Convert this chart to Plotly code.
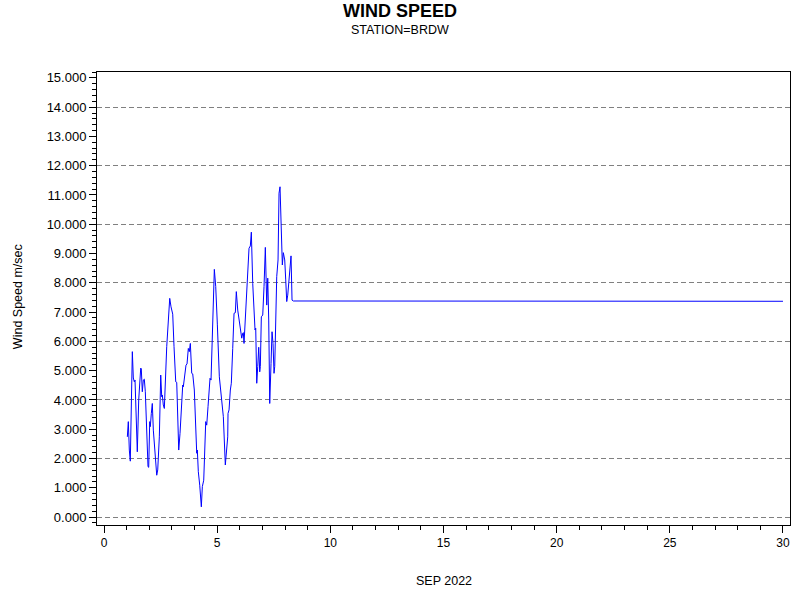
import plotly.graph_objects as go

# Day of month (Sep 2022) and wind speed (m/sec)
days = [1.030, 1.074, 1.118, 1.162, 1.251, 1.295, 1.339, 1.370, 1.471, 1.533,
        1.622, 1.648, 1.692, 1.737, 1.781, 1.825, 1.944, 1.975, 2.019, 2.046,
        2.090, 2.134, 2.179, 2.267, 2.329, 2.373, 2.444, 2.506, 2.550, 2.576,
        2.620, 2.665, 2.771, 2.841, 2.903, 2.961, 3.005, 3.036, 3.093, 3.168,
        3.213, 3.301, 3.358, 3.434, 3.478, 3.504, 3.566, 3.623, 3.668, 3.725,
        3.769, 3.814, 3.875, 3.920, 3.990, 4.052, 4.096, 4.123, 4.167, 4.229,
        4.300, 4.344, 4.406, 4.494, 4.538, 4.596, 4.653, 4.684, 4.728, 4.803,
        4.874, 4.936, 4.980, 5.007, 5.095, 5.157, 5.214, 5.272, 5.360, 5.422,
        5.466, 5.479, 5.524, 5.581, 5.625, 5.687, 5.745, 5.802, 5.846, 5.908,
        5.966, 6.041, 6.085, 6.129, 6.156, 6.186, 6.244, 6.332, 6.407, 6.465,
        6.509, 6.571, 6.628, 6.672, 6.703, 6.748, 6.792, 6.836, 6.880, 6.907,
        6.951, 7.013, 7.070, 7.128, 7.190, 7.234, 7.278, 7.322, 7.380, 7.424,
        7.468, 7.512, 7.543, 7.587, 7.631, 7.689, 7.733, 7.777, 7.821, 7.879,
        7.923, 7.985, 8.029, 8.073, 8.118, 8.175, 8.219, 8.263, 8.308, 8.365,
        30.0]
speed = [2.74, 3.26, 2.29, 1.91, 5.65, 4.75, 4.62, 4.68, 2.23, 4.00,
         5.09, 5.06, 4.28, 4.68, 4.71, 4.28, 1.72, 1.70, 3.26, 3.09,
         3.54, 3.88, 2.97, 1.95, 1.43, 1.61, 2.74, 4.85, 4.11, 4.17,
         3.83, 3.71, 5.82, 6.73, 7.47, 7.18, 6.94, 6.93, 5.82, 4.62,
         4.60, 2.29, 2.86, 4.11, 4.51, 4.45, 4.96, 5.19, 5.23, 5.76,
         5.65, 5.93, 4.91, 4.89, 4.34, 2.52, 2.18, 2.29, 1.55, 1.09,
         0.35, 1.04, 1.26, 3.26, 3.14, 3.77, 4.62, 4.74, 4.68, 7.07,
         8.46, 7.87, 6.62, 6.59, 4.79, 4.34, 3.88, 3.43, 1.78, 2.40,
         2.74, 3.54, 3.66, 4.34, 4.57, 5.76, 6.96, 6.98, 7.70, 7.07,
         6.73, 6.28, 6.11, 6.28, 6.30, 5.93, 6.84, 7.98, 9.18, 9.26,
         9.73, 7.98, 7.07, 6.39, 6.45, 4.57, 5.14, 5.80, 4.96, 5.14,
         6.84, 6.90, 7.87, 9.21, 7.24, 8.16, 6.73, 3.88, 5.25, 6.33,
         5.93, 4.91, 5.14, 6.50, 8.21, 8.78, 11.06, 11.28, 10.26, 8.61,
         9.03, 8.78, 8.10, 7.36, 7.58, 8.16, 8.67, 8.92, 7.41, 7.38,
         7.37]

x_ticks = [0, 5, 10, 15, 20, 25, 30]
y_ticks = list(range(0, 16))
y_grid = list(range(0, 16, 2))

FONT = "Liberation Sans, Arial, sans-serif"

fig = go.Figure()
fig.add_trace(go.Scatter(x=days, y=speed, mode="lines",
                         line=dict(color="#0000ff", width=1),
                         hoverinfo="x+y", showlegend=False))
# invisible trace for the grid axis
fig.add_trace(go.Scatter(x=[None], y=[None], yaxis="y2", showlegend=False,
                         hoverinfo="skip"))

yrange = [-0.27, 15.2]
fig.update_layout(
    width=800, height=600,
    margin=dict(l=97, r=10, t=72, b=75),
    paper_bgcolor="white", plot_bgcolor="white",
    font=dict(family=FONT, color="black", size=12),
    title=dict(text="<b>WIND SPEED</b>", x=0.5, xref="container",
               y=1 - 11 / 600, yref="container", yanchor="middle",
               xanchor="center", font=dict(size=18, family=FONT)),
    xaxis=dict(range=[-0.31, 30.31], tickvals=x_ticks,
               ticks="outside", ticklen=7, tickcolor="black", tickwidth=1,
               minor=dict(dtick=1, tick0=0, ticks="outside", ticklen=4,
                          tickcolor="black", showgrid=False),
               showline=True, linecolor="black", linewidth=1, mirror=True,
               showgrid=False, zeroline=False,
               tickfont=dict(size=12), title=None),
    yaxis=dict(range=yrange, tickvals=y_ticks, tickformat=".3f",
               ticks="outside", ticklen=7, tickcolor="black", tickwidth=1,
               minor=dict(dtick=0.2, tick0=0, ticks="outside", ticklen=4,
                          tickcolor="black", showgrid=False),
               showline=True, linecolor="black", linewidth=1, mirror=True,
               showgrid=False, zeroline=False,
               tickfont=dict(size=13), title=None),
    yaxis2=dict(range=yrange, overlaying="y", tickvals=y_grid,
                showticklabels=False, ticks="", showgrid=True,
                gridcolor="#808080", griddash="5px,3px", gridwidth=1,
                zeroline=False, showline=False, layer="below traces"),
    annotations=[
        dict(text="STATION=BRDW", xref="paper", yref="paper",
             x=(400 - 97) / 693, y=(525 - 30) / 453, showarrow=False,
             xanchor="center", yanchor="middle", font=dict(size=12.5)),
        dict(text="SEP 2022", xref="paper", yref="paper",
             x=(444 - 97) / 693, y=(525 - 581) / 453, showarrow=False,
             xanchor="center", yanchor="middle", font=dict(size=12.5)),
        dict(text="Wind Speed m/sec", xref="paper", yref="paper",
             x=(18 - 97) / 693, y=0.503, showarrow=False, textangle=-90,
             xanchor="center", yanchor="middle", font=dict(size=12.5)),
    ],
)

fig.write_html("out.html", config={"displayModeBar": False},
               post_script="document.body.style.margin='0';")
